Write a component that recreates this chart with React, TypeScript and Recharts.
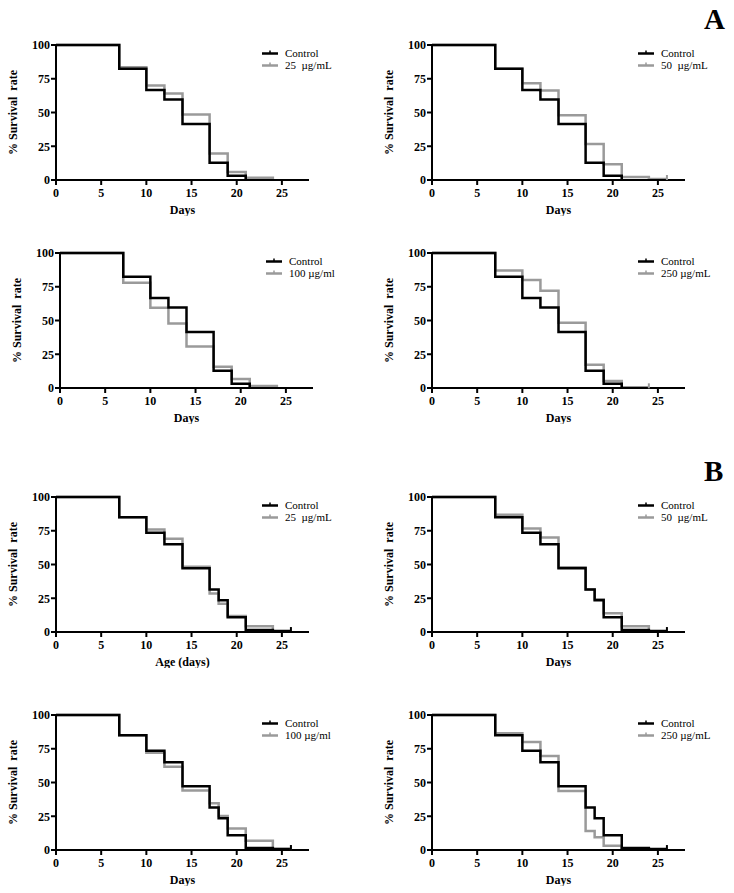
import { LineChart, Line, XAxis, YAxis } from "recharts"

const FONT = '"Liberation Serif", "Times New Roman", serif'
const GRAY = "#9a9a9a"

const xTicks = [0, 5, 10, 15, 20, 25]
const yTicks = [0, 25, 50, 75, 100]

// experiment A
const controlADays = [0, 7, 10, 12, 14, 17, 19, 21]
const controlASurv = [100, 82.4, 66.7, 59.6, 41.5, 12.8, 3.2, 0]
const a25Days = [0, 7, 10, 12, 14, 17, 19, 21, 24]
const a25Surv = [100, 83.5, 70, 64, 48.5, 19.6, 6, 1.7, 0]
const a50Days = [0, 7, 10, 12, 14, 17, 19, 21, 24, 26]
const a50Surv = [100, 82.4, 71.7, 66.3, 47.9, 26.6, 11.7, 2.2, 0.7, 0.7]
const a100Days = [0, 7, 10, 12, 14, 17, 19, 21, 24]
const a100Surv = [100, 78, 59.4, 47.8, 30.8, 15.8, 6.7, 1.5, 0]
const a250Days = [0, 7, 10, 12, 14, 17, 19, 21, 24]
const a250Surv = [100, 87.1, 80, 72, 48.3, 17.3, 5.2, 0.5, 0.5]

// experiment B
const controlBDays = [0, 7, 10, 12, 14, 17, 18, 19, 21, 24, 26]
const controlBSurv = [100, 85, 73.6, 65, 47.2, 31.5, 23.6, 11, 1.5, 0.7, 0.7]
const b25Days = [0, 7, 10, 12, 14, 17, 18, 19, 21, 24]
const b25Surv = [100, 85, 76, 69, 48.4, 28.5, 21, 11.9, 4.2, 0]
const b50Days = [0, 7, 10, 12, 14, 17, 18, 19, 21, 24]
const b50Surv = [100, 86.8, 76.7, 70, 47.9, 31.5, 24.3, 13.9, 4.2, 0]
const b100Days = [0, 7, 10, 12, 14, 17, 18, 19, 21, 24, 26]
const b100Surv = [100, 85, 72.1, 61.7, 44, 34.6, 25.2, 16, 6.9, 0.7, 0.7]
const b250Days = [0, 7, 10, 12, 14, 17, 18, 19, 21, 24]
const b250Surv = [100, 86.4, 80, 69.6, 43.7, 14, 9.4, 3.2, 1, 0]

const toSeries = (days: number[], surv: number[]) =>
  days.map((day, i) => ({ day, value: surv[i] }))

const panels = [
  { left: 0, top: 30, control: toSeries(controlADays, controlASurv), treated: toSeries(a25Days, a25Surv), name: "25  µg/mL", xLabel: "Days" },
  { left: 376, top: 30, control: toSeries(controlADays, controlASurv), treated: toSeries(a50Days, a50Surv), name: "50  µg/mL", xLabel: "Days" },
  { left: 4, top: 238, control: toSeries(controlADays, controlASurv), treated: toSeries(a100Days, a100Surv), name: "100 µg/ml", xLabel: "Days" },
  { left: 376, top: 238, control: toSeries(controlADays, controlASurv), treated: toSeries(a250Days, a250Surv), name: "250 µg/mL", xLabel: "Days" },
  { left: 0, top: 482, control: toSeries(controlBDays, controlBSurv), treated: toSeries(b25Days, b25Surv), name: "25  µg/mL", xLabel: "Age (days)" },
  { left: 376, top: 482, control: toSeries(controlBDays, controlBSurv), treated: toSeries(b50Days, b50Surv), name: "50  µg/mL", xLabel: "Days" },
  { left: 0, top: 700, control: toSeries(controlBDays, controlBSurv), treated: toSeries(b100Days, b100Surv), name: "100 µg/ml", xLabel: "Days" },
  { left: 376, top: 700, control: toSeries(controlBDays, controlBSurv), treated: toSeries(b250Days, b250Surv), name: "250 µg/mL", xLabel: "Days" },
]

// small vertical tick on the last point when the curve ends above zero (censored)
const censorDot = (color: string, length: number) => (props: any) => {
  const { cx, cy, index, value } = props
  const v = Array.isArray(value) ? value[1] : value
  if (index !== length - 1 || !(v > 0)) return <g key={`d${index}`} />
  return <line key={`d${index}`} x1={cx} x2={cx} y1={cy - 4} y2={cy + 1} stroke={color} strokeWidth={2} />
}

function LegendBox({ name }: { name: string }) {
  const rows = [
    { label: "Control", color: "#000" },
    { label: name, color: GRAY },
  ]
  return (
    <div style={{ position: "absolute", left: 262, top: 17, fontFamily: FONT, fontSize: 11, lineHeight: "12px", color: "#000" }}>
      {rows.map((r) => (
        <div key={r.label} style={{ display: "flex", alignItems: "center", height: 12 }}>
          <svg width={17} height={12} style={{ marginRight: 6 }}>
            <line x1={0} x2={16} y1={6.5} y2={6.5} stroke={r.color} strokeWidth={2.5} />
            <line x1={8} x2={8} y1={3.5} y2={6.5} stroke={r.color} strokeWidth={1.5} />
          </svg>
          <span style={{ whiteSpace: "pre" }}>{r.label}</span>
        </div>
      ))}
    </div>
  )
}

function SurvivalPanel({ left, top, control, treated, name, xLabel }: any) {
  const tickStyle = { fill: "#000", fontSize: 12, fontWeight: 700, fontFamily: FONT }
  return (
    <div style={{ position: "absolute", left, top, width: 320, height: 186 }}>
      <LineChart width={320} height={186} margin={{ top: 15, right: 11, bottom: 0, left: 0 }}>
        <XAxis
          type="number"
          dataKey="day"
          domain={[0, 28]}
          ticks={xTicks}
          allowDataOverflow
          height={36}
          axisLine={{ stroke: "#000", strokeWidth: 2 }}
          tickLine={{ stroke: "#000", strokeWidth: 2 }}
          tickSize={5}
          tickMargin={3}
          tick={tickStyle}
          label={{ value: xLabel, position: "insideBottom", offset: 2, style: { fill: "#000", fontSize: 12, fontWeight: 700, fontFamily: FONT } }}
        />
        <YAxis
          type="number"
          domain={[0, 100]}
          ticks={yTicks}
          width={56}
          axisLine={{ stroke: "#000", strokeWidth: 2 }}
          tickLine={{ stroke: "#000", strokeWidth: 2 }}
          tickSize={5}
          tickMargin={1}
          tick={tickStyle}
          label={{
            value: "% Survival\u00a0 rate",
            angle: -90,
            position: "insideLeft",
            offset: 13,
            style: { textAnchor: "middle", fill: "#000", fontSize: 12, fontWeight: 700, fontFamily: FONT },
          }}
        />
        <Line
          data={treated}
          dataKey="value"
          type="stepAfter"
          stroke={GRAY}
          strokeWidth={2.5}
          dot={censorDot(GRAY, treated.length)}
          isAnimationActive={false}
        />
        <Line
          data={control}
          dataKey="value"
          type="stepAfter"
          stroke="#000"
          strokeWidth={2.5}
          dot={censorDot("#000", control.length)}
          isAnimationActive={false}
        />
      </LineChart>
      <LegendBox name={name} />
    </div>
  )
}

export default function App() {
  return (
    <div style={{ position: "absolute", left: 0, top: 0, width: 734, height: 893, background: "#fff", fontFamily: FONT }}>
      {panels.map((p, i) => (
        <SurvivalPanel key={i} {...p} />
      ))}
      <div style={{ position: "absolute", left: 704, top: 5, fontSize: 29, fontWeight: 700, lineHeight: 1 }}>A</div>
      <div style={{ position: "absolute", left: 704, top: 457, fontSize: 29, fontWeight: 700, lineHeight: 1 }}>B</div>
    </div>
  )
}
